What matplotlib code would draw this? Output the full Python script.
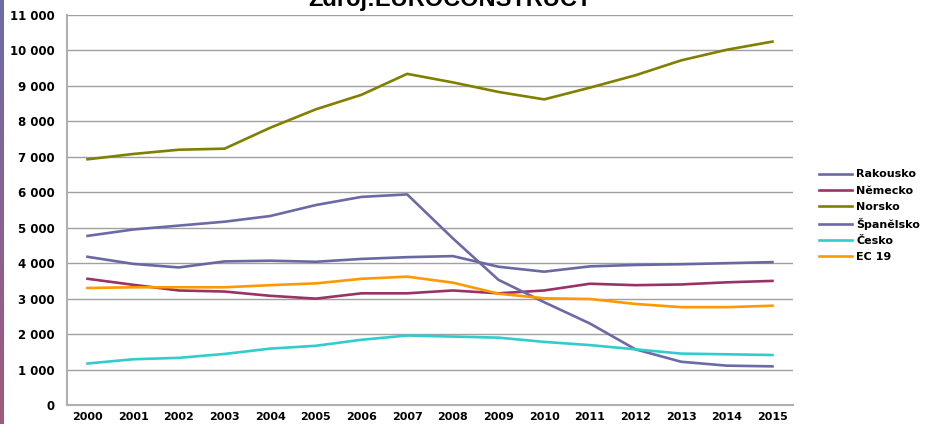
import numpy as np
import matplotlib
matplotlib.use("Agg")
from matplotlib import pyplot as plt
from matplotlib.colors import LinearSegmentedColormap

years = list(range(2000, 2016))

rakousko = [4180, 3980, 3880, 4050, 4070, 4040, 4120, 4170, 4200, 3900, 3760, 3910, 3950, 3970, 4000, 4030]
nemecko = [3560, 3390, 3230, 3200, 3080, 3000, 3150, 3150, 3230, 3150, 3230, 3420, 3380, 3400, 3460, 3500]
norsko = [6930, 7080, 7200, 7230, 7820, 8340, 8750, 9340, 9100, 8830, 8620, 8950, 9300, 9720, 10020, 10250]
spanelsko = [4770, 4950, 5060, 5170, 5330, 5640, 5870, 5940, 4700, 3530, 2900, 2300, 1570, 1220, 1110, 1090]
cesko = [1170, 1290, 1330, 1440, 1590, 1670, 1840, 1960, 1930, 1900, 1780, 1690, 1570, 1450, 1430, 1410]
ec19 = [3300, 3320, 3320, 3320, 3380, 3430, 3560, 3620, 3450, 3140, 3010, 2990, 2850, 2760, 2760, 2800]

series = [
    ("Rakousko", rakousko, "#6A68A0"),
    ("Německo", nemecko, "#993366"),
    ("Norsko", norsko, "#808000"),
    ("Španělsko", spanelsko, "#6C6AA6"),
    ("Česko", cesko, "#33CCCC"),
    ("EC 19", ec19, "#FF9900"),
]

fig = plt.figure(figsize=(9.32, 4.24), dpi=100)

# slide decoration on the left edge
deco = fig.add_axes([0, 0, 4 / 932, 1])
grad = np.linspace(0, 1, 100).reshape(-1, 1)
cmap = LinearSegmentedColormap.from_list("deco", ["#6E6CA8", "#A05A7C"])
deco.imshow(grad, aspect="auto", cmap=cmap, extent=[0, 1, 0, 1], origin="upper")
deco.axis("off")

ax = fig.add_axes([67 / 932, 1 - 405 / 424, (793 - 67) / 932, (405 - 15) / 424])

x = np.arange(len(years))
for name, vals, col in series:
    ax.plot(x, vals, color=col, lw=1.9, label=name)

ax.set_xlim(-0.45, len(years) - 0.55)
ax.set_ylim(0, 11000)
ax.set_yticks(range(0, 11001, 1000))
ax.set_yticklabels(["{:,}".format(v).replace(",", " ") for v in range(0, 11001, 1000)],
                   fontsize=8.5, fontweight="bold")
ax.set_xticks(x)
ax.set_xticklabels([str(y) for y in years], fontsize=8, fontweight="bold")
ax.tick_params(axis="x", length=0, pad=5)
ax.tick_params(axis="y", length=0, pad=9)
ax.grid(axis="y", color="#A0A0A0", lw=1)
ax.set_axisbelow(True)
for s in ["top", "right"]:
    ax.spines[s].set_visible(False)
for s in ["left", "bottom"]:
    ax.spines[s].set_color("#B0B0B0")
    ax.spines[s].set_linewidth(1.5)

fig.legend(loc="upper left", bbox_to_anchor=(815 / 932, 1 - 165 / 424),
           frameon=False, prop={"weight": "bold", "size": 8},
           handlelength=2.9, handletextpad=0.4, labelspacing=0.55, borderaxespad=0)

fig.text(450 / 932, 1 - 6 / 424, "Zdroj:EUROCONSTRUCT", ha="center", va="baseline",
         fontsize=17, fontweight="bold", family="Liberation Sans")

fig.savefig("out.png", dpi=100)
